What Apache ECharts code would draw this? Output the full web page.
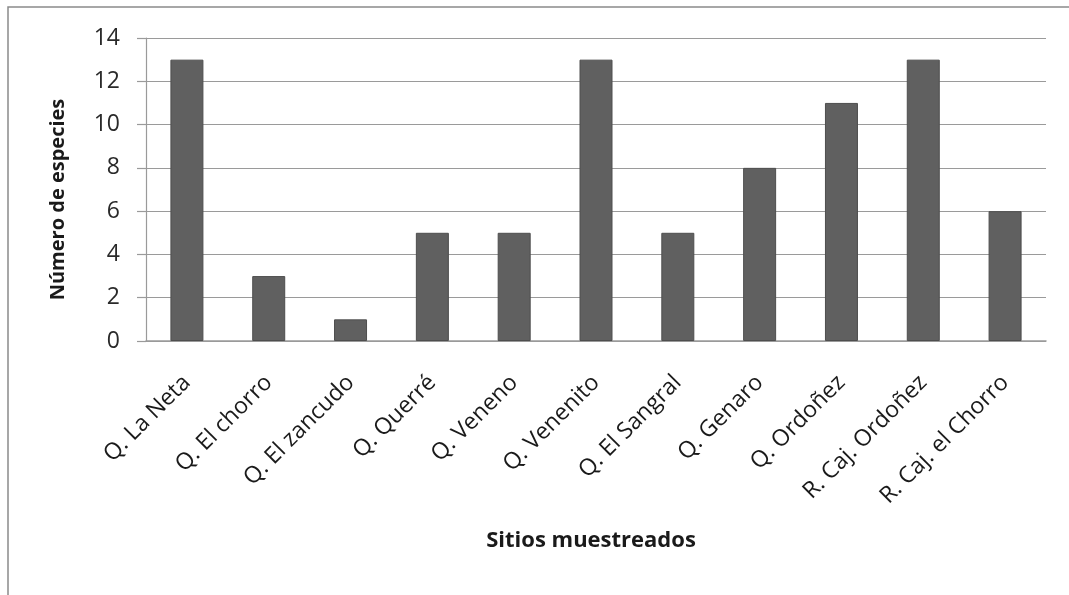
<!DOCTYPE html>
<html>
<head>
<meta charset="utf-8">
<script src="https://cdn.jsdelivr.net/npm/echarts@6/dist/echarts.min.js"></script>
<style>
  html, body { margin: 0; padding: 0; background: #fff; }
  #chart { width: 1069px; height: 595px; }
</style>
</head>
<body>
<div id="chart"></div>
<script>
// Sampling sites and species counts
const categories = [
  'Q. La Neta', 'Q. El chorro', 'Q. El zancudo', 'Q. Querré', 'Q. Veneno',
  'Q. Venenito', 'Q. El Sangral', 'Q. Genaro', 'Q. Ordoñez',
  'R. Caj. Ordoñez', 'R. Caj. el Chorro'
];
const speciesCounts = [13, 3, 1, 5, 5, 13, 5, 8, 11, 13, 6];
const yTicks = [0, 2, 4, 6, 8, 10, 12, 14];

const chart = echarts.init(document.getElementById('chart'));
const fontFamily = '"Open Sans", "DejaVu Sans", sans-serif';

chart.setOption({
  animation: false,
  graphic: [{
    type: 'rect',
    shape: { x: 8, y: 7, width: 1100, height: 620 },
    style: { fill: 'none', stroke: '#8a8a8a', lineWidth: 1.5 },
    silent: true
  }],
  grid: { left: 146, right: 23, top: 38, bottom: 254, containLabel: false },
  xAxis: {
    type: 'category',
    data: categories,
    name: 'Sitios muestreados',
    nameLocation: 'middle',
    nameGap: 189,
    nameTextStyle: { fontFamily, fontSize: 22, fontWeight: 'bold', color: '#1a1a1a', padding: [0, 10, 0, 0] },
    axisLine: { lineStyle: { color: '#9a9a9a', width: 1.5 } },
    axisTick: { show: false },
    axisLabel: {
      rotate: 45,
      interval: 0,
      margin: 38,
      fontFamily,
      fontSize: 23,
      color: '#1a1a1a'
    }
  },
  yAxis: {
    type: 'value',
    min: yTicks[0],
    max: yTicks[yTicks.length - 1],
    interval: 2,
    name: 'Número de especies',
    nameLocation: 'middle',
    nameGap: 78,
    nameTextStyle: { fontFamily, fontSize: 20, fontWeight: 'bold', color: '#1a1a1a', padding: [0, 20, 0, 0] },
    axisLine: { show: true, lineStyle: { color: '#9a9a9a', width: 1.2 } },
    axisTick: { show: true, length: 9, lineStyle: { color: '#9a9a9a', width: 1.2 } },
    splitLine: { lineStyle: { color: '#9a9a9a', width: 1.2 } },
    axisLabel: { fontFamily, fontSize: 23, color: '#2a2a2a', margin: 26 }
  },
  series: [{
    type: 'bar',
    data: speciesCounts,
    barWidth: 33,
    itemStyle: { color: '#606060', borderColor: '#4e4e4e', borderWidth: 1 }
  }]
});
</script>
</body>
</html>
